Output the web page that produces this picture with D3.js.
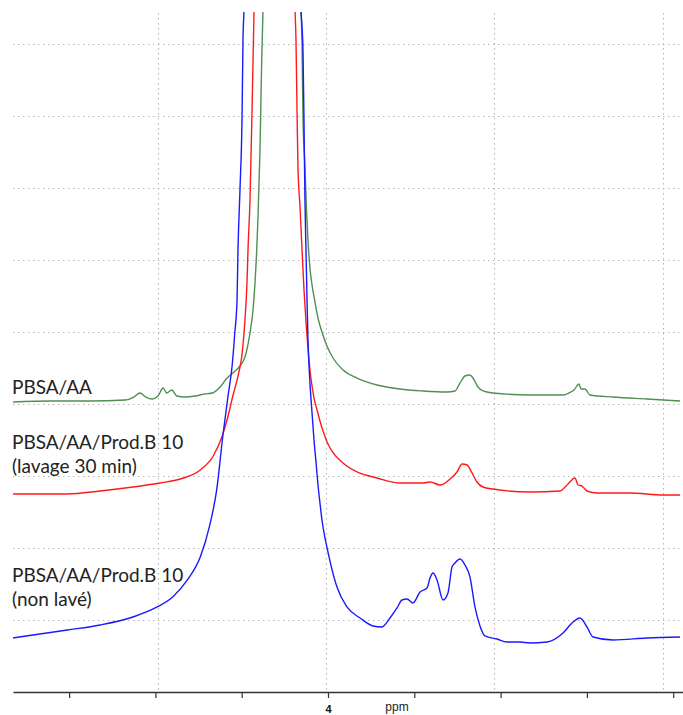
<!DOCTYPE html>
<html>
<head>
<meta charset="utf-8">
<script src="https://cdn.jsdelivr.net/npm/d3@7"></script>
<style>
  html, body { margin: 0; padding: 0; background: #fff; }
  svg { display: block; }
</style>
</head>
<body>
<svg id="chart" width="683" height="715"></svg>
<script>
// ---------- data (ppm vs. intensity, arbitrary units) ----------
const seriesNames = ["PBSA/AA", "PBSA/AA/Prod.B 10\n(lavage 30 min)", "PBSA/AA/Prod.B 10\n(non lavé)"];

const xTicks = [4.3, 4.2, 4.1, 4.0, 3.9, 3.8, 3.7, 3.6];
const xTickLabels = ["", "", "", "4", "", "", "", ""];
const xTitle = "ppm";
const xGrid = [4.197, 4.002, 3.808, 3.612];
const yGrid = [1, 2, 3, 4, 5, 6, 7, 8, 9];

const greenPpm = [4.365, 4.322, 4.276, 4.235, 4.225, 4.218, 4.211, 4.204, 4.197, 4.191, 4.187, 4.181, 4.175, 4.166, 4.154, 4.143, 4.134, 4.125, 4.117, 4.109, 4.102, 4.0962, 4.0904, 4.0869, 4.0846, 4.0826, 4.0811, 4.0788, 4.0768, 4.0753, 4.0556,
  4.0313, 4.0301, 4.0290, 4.0267, 4.0249, 4.0232, 4.0209, 4.0185, 4.0151, 4.0116, 4.0070, 4.0012, 3.9942, 3.9826, 3.9664, 3.9432, 3.9166, 3.8899, 3.8621, 3.8528, 3.8470, 3.8413, 3.8355, 3.8320, 3.8262, 3.8204, 3.8088, 3.7659, 3.7277, 3.7208, 3.7150, 3.7092, 3.7068, 3.7022, 3.6964, 3.6698, 3.6304, 3.5921];
const greenInt = [4.028, 4.042, 4.042, 4.056, 4.097, 4.153, 4.097, 4.069, 4.111, 4.222, 4.153, 4.194, 4.111, 4.097, 4.111, 4.139, 4.153, 4.236, 4.361, 4.444, 4.528, 4.653, 4.986, 5.306, 5.681, 6.139, 6.597, 7.528, 8.778, 9.472, 20,
  9.472, 9.014, 7.986, 7.292, 6.694, 6.278, 5.889, 5.653, 5.417, 5.194, 5.000, 4.806, 4.639, 4.472, 4.361, 4.264, 4.208, 4.181, 4.167, 4.181, 4.292, 4.389, 4.403, 4.361, 4.236, 4.181, 4.153, 4.125, 4.125, 4.153, 4.194, 4.278, 4.208, 4.208, 4.125, 4.097, 4.069, 4.042];

const redPpm = [4.365, 4.342, 4.302, 4.264, 4.226, 4.195, 4.171, 4.148, 4.133, 4.123, 4.117, 4.110, 4.104, 4.0997, 4.0962, 4.0939, 4.0927, 4.0904, 4.0881, 4.0869, 4.0857, 4.0614,
  4.0382, 4.0371, 4.0359, 4.0348, 4.0324, 4.0301, 4.0278, 4.0255, 4.0232, 4.0209, 4.0185, 4.0162, 4.0127, 4.0093, 4.0046, 4.0000, 3.9954, 3.9826, 3.9664, 3.9432, 3.9166, 3.8899, 3.8818, 3.8702, 3.8586, 3.8505, 3.8447, 3.8389, 3.8331, 3.8274, 3.8204, 3.8088, 3.7659, 3.7312, 3.7219, 3.7138, 3.7103, 3.7057, 3.6999, 3.6883, 3.6501, 3.6118, 3.5921];
const redInt = [2.750, 2.750, 2.750, 2.792, 2.847, 2.903, 2.958, 3.083, 3.278, 3.542, 3.778, 4.125, 4.403, 4.681, 5.167, 5.681, 6.139, 6.833, 8.042, 8.736, 9.472, 25,
  9.472, 9.056, 8.083, 7.292, 6.736, 6.139, 5.583, 5.139, 4.778, 4.472, 4.250, 4.083, 3.917, 3.764, 3.583, 3.444, 3.347, 3.181, 3.056, 2.972, 2.903, 2.903, 2.917, 2.875, 2.958, 3.056, 3.167, 3.153, 3.042, 2.917, 2.847, 2.819, 2.778, 2.792, 2.889, 2.972, 2.875, 2.861, 2.792, 2.764, 2.764, 2.736, 2.736];

const bluePpm = [4.365, 4.342, 4.302, 4.264, 4.226, 4.198, 4.180, 4.163, 4.148, 4.137, 4.129, 4.122, 4.116, 4.111, 4.108, 4.1054, 4.1043, 4.1020, 4.0996, 4.0985, 4.0973, 4.0649,
  4.0313, 4.0290, 4.0278, 4.0267, 4.0255, 4.0243, 4.0232, 4.0209, 4.0185, 4.0162, 4.0139, 4.0116, 4.0093, 4.0070, 4.0035, 4.0000, 3.9977, 3.9896, 3.9780, 3.9629, 3.9479, 3.9374, 3.9282, 3.9200, 3.9143, 3.9085, 3.9015, 3.8934, 3.8853, 3.8818, 3.8783, 3.8737, 3.8667, 3.8610, 3.8563, 3.8528, 3.8470, 3.8413, 3.8355, 3.8297, 3.8239, 3.8181, 3.8042, 3.7926, 3.7775, 3.7659, 3.7462, 3.7277, 3.7173, 3.7080, 3.6999, 3.6929, 3.6698, 3.6304, 3.5921];
const blueInt = [0.750, 0.792, 0.861, 0.931, 1.042, 1.181, 1.319, 1.556, 1.875, 2.319, 2.806, 3.542, 4.097, 4.542, 4.986, 5.444, 6.139, 6.972, 7.986, 9.056, 9.472, 30,
  9.472, 8.917, 7.903, 6.833, 6.139, 5.444, 4.889, 4.292, 3.875, 3.500, 3.194, 2.875, 2.625, 2.389, 2.139, 1.944, 1.819, 1.458, 1.181, 1.028, 0.917, 0.903, 1.028, 1.167, 1.278, 1.292, 1.236, 1.389, 1.444, 1.583, 1.653, 1.556, 1.278, 1.375, 1.736, 1.792, 1.847, 1.764, 1.597, 1.181, 0.917, 0.778, 0.736, 0.694, 0.694, 0.681, 0.694, 0.819, 0.958, 1.028, 0.903, 0.764, 0.722, 0.750, 0.764];

const seriesColors = ["#4f8f4f", "#ff1a1a", "#1a1aff"];

// ---------- layout ----------
const plotLeft = 13, plotRight = 683, plotTop = 12, axisY = 692;
const svg = d3.select("#chart");

const x = d3.scaleLinear().domain([4 + 315 / 863, 4 - 355 / 863]).range([plotLeft, plotRight]);
const y = d3.scaleLinear().domain([0, (axisY - plotTop) / 72]).range([axisY, plotTop]);

// grid
const grid = svg.append("g").attr("stroke", "#b4b4b4").attr("stroke-width", 1.1).attr("stroke-dasharray", "1.4,3.6");
grid.selectAll("line.h").data(yGrid).join("line")
  .attr("x1", plotLeft).attr("x2", plotRight)
  .attr("y1", d => Math.round(y(d)) + 0.5).attr("y2", d => Math.round(y(d)) + 0.5);
grid.selectAll("line.v").data(xGrid).join("line")
  .attr("x1", d => Math.round(x(d)) + 0.5).attr("x2", d => Math.round(x(d)) + 0.5)
  .attr("y1", plotTop + 1).attr("y2", axisY - 2);

// clip
svg.append("defs").append("clipPath").attr("id", "plotclip")
  .append("rect").attr("x", plotLeft).attr("y", plotTop).attr("width", plotRight - plotLeft).attr("height", axisY - plotTop);

const series = [
  { ppm: greenPpm, val: greenInt },
  { ppm: redPpm, val: redInt },
  { ppm: bluePpm, val: blueInt }
];

const line = d3.line().x(d => x(d[0])).y(d => y(d[1])).curve(d3.curveMonotoneX);
const traces = svg.append("g").attr("clip-path", "url(#plotclip)");
series.forEach((s, i) => {
  const pts = s.ppm.map((p, j) => [p, s.val[j]]).reverse();
  traces.append("path")
    .attr("d", line(pts))
    .attr("fill", "none")
    .attr("stroke", seriesColors[i])
    .attr("stroke-width", 1.4)
    .attr("stroke-linejoin", "round");
});

// axis
const axis = d3.axisBottom(x).tickValues(xTicks)
  .tickFormat((d, i) => xTickLabels[i]).tickSize(6).tickSizeOuter(0).tickPadding(7);
const ag = svg.append("g").attr("transform", `translate(0,${axisY})`).call(axis);
ag.select(".domain").attr("stroke", "#333").attr("stroke-width", 1.3);
ag.selectAll(".tick line").attr("stroke", "#333").attr("stroke-width", 1.2);
ag.selectAll(".tick text").attr("font-family", "Liberation Sans, Arial, sans-serif")
  .attr("font-size", 11).attr("font-weight", "bold").attr("fill", "#111");

svg.append("text").attr("x", x(3.92)).attr("y", 711).attr("text-anchor", "middle")
  .attr("font-family", "Liberation Sans, Arial, sans-serif").attr("font-size", 12).attr("fill", "#222")
  .text(xTitle);

// series labels
const labelPos = [[394], [449, 473], [582, 606]];
seriesNames.forEach((name, i) => {
  name.split("\n").forEach((ln, k) => {
    svg.append("text").attr("x", 12).attr("y", labelPos[i][k])
      .attr("font-family", "Lato, 'Open Sans', sans-serif").attr("font-size", 19).attr("fill", "#222")
      .text(ln);
  });
});
</script>
</body>
</html>
